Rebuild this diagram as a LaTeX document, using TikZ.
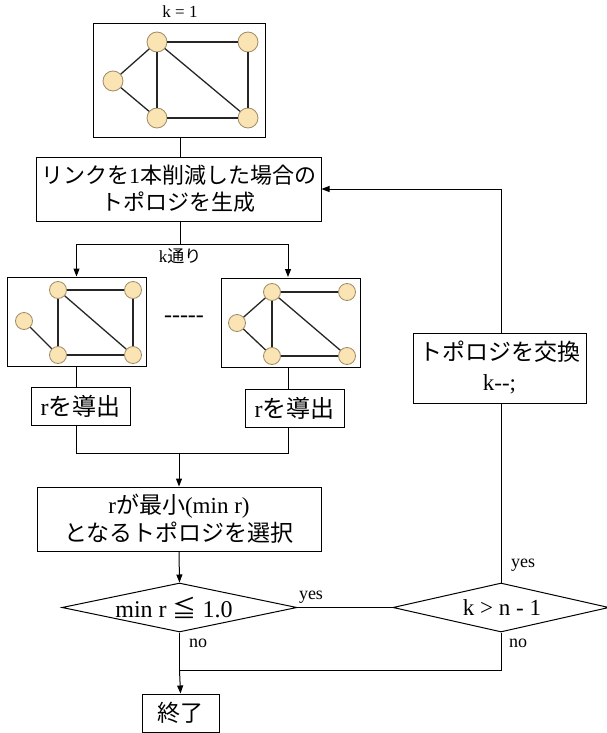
\documentclass[tikz,border=0pt]{standalone}
\usepackage{fontspec}
\setmainfont{Liberation Serif}
\newfontfamily\cjk{Noto Sans CJK JP}
\usetikzlibrary{arrows.meta,shapes.geometric}
\newcommand{\J}[1]{{\cjk #1}}
\newcommand{\fsz}[2]{\fontsize{#1pt}{#2pt}\selectfont}
\definecolor{vfill}{RGB}{250,228,180}
\definecolor{vline}{RGB}{160,140,100}
\begin{document}
\begin{tikzpicture}[x=1pt,y=-1pt,
  box/.style={draw, line width=1pt, inner sep=0pt, align=center},
  gbox/.style={draw, line width=1pt, inner sep=0pt},
  vtx/.style={circle, draw=vline, fill=vfill, line width=0.8pt, inner sep=0pt, minimum size=#1},
  gedge/.style={line width=1.3pt, draw=black!85},
  conn/.style={line width=1pt},
  arr/.style={conn, -{Triangle[length=8pt,width=6pt]}},
  lbl/.style={inner sep=0pt, font=\fsz{18}{20}},
  dia/.style={draw, diamond, line width=1pt, inner sep=0pt, minimum height=49pt},
]
\useasboundingbox (0,0) rectangle (607,733);

% top graph
\node[lbl, font=\fsz{17}{19}] (k1) at (180,12) {k = 1};
\node[gbox, minimum width=172pt, minimum height=113pt] (g0) at (179,80.5) {};
\node[vtx=20pt] (a0) at (157,42) {};
\node[vtx=20pt] (b0) at (248,42) {};
\node[vtx=20pt] (c0) at (113,81) {};
\node[vtx=20pt] (d0) at (157,118) {};
\node[vtx=20pt] (e0) at (248,118) {};
\draw[gedge] (a0) -- (b0);
\draw[gedge] (a0) -- (c0);
\draw[gedge] (a0) -- (d0);
\draw[gedge] (a0) -- (e0);
\draw[gedge] (b0) -- (e0);
\draw[gedge] (c0) -- (d0);
\draw[gedge] (d0) -- (e0);

% generate box
\node[box, minimum width=285pt, minimum height=64pt, font=\fsz{22}{27}] (b1) at (178.5,189)
  {\J{リンクを}1\J{本削減した場合の}\\\J{トポロジを生成}};

% left graph
\node[gbox, minimum width=139pt, minimum height=89pt] (gl) at (76.5,321.5) {};
\node[vtx=17pt] (al) at (58,290) {};
\node[vtx=17pt] (bl) at (133,290) {};
\node[vtx=17pt] (cl) at (24,321) {};
\node[vtx=17pt] (dl) at (58,355) {};
\node[vtx=17pt] (el) at (133,355) {};
\draw[gedge] (al) -- (bl);
\draw[gedge] (al) -- (dl);
\draw[gedge] (al) -- (el);
\draw[gedge] (bl) -- (el);
\draw[gedge] (cl) -- (dl);
\draw[gedge] (dl) -- (el);

% right graph
\node[gbox, minimum width=139pt, minimum height=89pt] (gr) at (290.5,322.5) {};
\node[vtx=17pt] (ar) at (272,292) {};
\node[vtx=17pt] (br) at (347,292) {};
\node[vtx=17pt] (cr) at (237,323) {};
\node[vtx=17pt] (dr) at (272,356) {};
\node[vtx=17pt] (er) at (347,356) {};
\draw[gedge] (ar) -- (br);
\draw[gedge] (ar) -- (cr);
\draw[gedge] (ar) -- (dr);
\draw[gedge] (ar) -- (er);
\draw[gedge] (cr) -- (dr);
\draw[gedge] (dr) -- (er);

\node[lbl, font=\fsz{24}{26}] (dots) at (184,319) {\mbox{-}\mbox{-}\mbox{-}\mbox{-}\mbox{-}};

% r boxes
\node[box, minimum width=99pt, minimum height=38pt, font=\fsz{24}{28}] (rl) at (80.5,406) {r\J{を導出}};
\node[box, minimum width=99pt, minimum height=38pt, font=\fsz{24}{28}] (rr) at (294.5,408) {r\J{を導出}};

% min r box
\node[box, minimum width=284pt, minimum height=64pt, font=\fsz{23}{28}] (m) at (179,519)
  {r\J{が最小}(min r)\\\J{となるトポロジを選択}};

% swap box
\node[box, minimum width=173pt, minimum height=70pt, font=\fsz{23}{30}] (sw) at (499.5,368)
  {\J{トポロジを交換}\\k\mbox{-}\mbox{-};};

% diamonds
\node[dia, minimum width=235pt] (d1) at (179.5,607.5) {};
\node[font=\fsz{24}{26}, inner sep=0pt] (t1) at (174,608) {min r \J{≦} 1.0};
\node[dia, minimum width=216pt] (d2) at (501,607.5) {};
\node[font=\fsz{23}{26}, inner sep=0pt] (t2) at (502,608) {k > n - 1};

% end
\node[box, minimum width=77pt, minimum height=38pt, font=\fsz{23}{26}] (end) at (180.5,713) {\J{終了}};

% connectors
\coordinate (j1) at (180,244);
\coordinate (k) at (179,453);
\coordinate (j2) at (179.5,670);
\draw[conn] (g0.south -| 180,0) -- (180,157);
\draw[conn] (180,221) -- (j1);
\draw[arr] (j1) -| (gl.north);
\draw[arr] (j1) -| (288,277);
\node[lbl, font=\fsz{17}{19}] (kt) at (180,256) {k\J{通り}};

\draw[conn] (gl.south) -- (gl.south |- rl.north);
\draw[conn] (288,367) -- (288,389);
\draw[conn] (gl.south |- rl.south) -- (gl.south |- k) -- (288,453) -- (288,427);
\draw[arr] (k) -- (m.north);
\draw[arr] (m.south) -- (d1.north);

\draw[conn] (d1.east) -- (d2.west);
\node[lbl] (y1) at (311,597) {yes};
\draw[conn] (d2.north) -- (d2.north |- sw.south);
\draw[arr] (d2.north |- sw.north) |- (b1.east);
\node[lbl] (y2) at (523,565) {yes};

\draw[conn] (d1.south) -- (j2);
\draw[conn] (d2.south) |- (j2);
\draw[arr] (j2) -- (end.north);
\node[lbl] (n1) at (198,643) {no};
\node[lbl] (n2) at (518,643) {no};
\end{tikzpicture}
\end{document}
